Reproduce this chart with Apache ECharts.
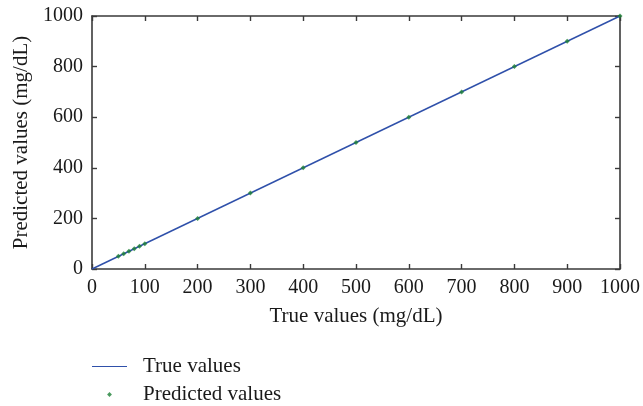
<!DOCTYPE html>
<html>
<head>
<meta charset="utf-8">
<script src="https://cdn.jsdelivr.net/npm/echarts@6/dist/echarts.min.js"></script>
<style>
  html, body { margin: 0; padding: 0; background: #fff; }
  #chart { width: 643px; height: 406px; }
</style>
</head>
<body>
<div id="chart"></div>
<script>
// Reference (identity) line endpoints, in mg/dL
const trueLineX = [0, 1000];
const trueLineY = [0, 1000];

// Predicted glucose values against true values, in mg/dL
const trueValues = [50, 60, 70, 80, 90, 100, 200, 300, 400, 500, 600, 700, 800, 900, 1000];
const predictedValues = [50, 60, 70, 80, 90, 100, 200, 300, 400, 500, 600, 700, 800, 900, 1000];

const FONT = '"Liberation Serif", "DejaVu Serif", serif';
const TEXT = '#1a1a1a';
const LINE_BLUE = '#2f50aa';
const POINT_GREEN = '#1b8034';

const chart = echarts.init(document.getElementById('chart'), null, { renderer: 'canvas' });

// Shared look for the four sides of the axis box
function boxAxis(extra) {
  return Object.assign({
    type: 'value',
    min: 0,
    max: 1000,
    axisLine: { show: true, onZero: false, lineStyle: { color: '#3a3a3a', width: 1.6 } },
    axisTick: { show: true, inside: true, length: 5, lineStyle: { color: '#3a3a3a', width: 1.4 } },
    splitLine: { show: false },
    axisLabel: { show: false }
  }, extra);
}

const tickLabel = (margin) => ({
  show: true,
  fontFamily: FONT,
  fontSize: 20,
  color: TEXT,
  margin: margin,
  formatter: (v) => String(v)
});

chart.setOption({
  animation: false,
  backgroundColor: '#fff',
  grid: { left: 92, right: 23, top: 16, bottom: 137, containLabel: false },
  xAxis: [
    boxAxis({
      position: 'bottom',
      interval: 100,
      name: 'True values (mg/dL)',
      nameLocation: 'middle',
      nameGap: 37,
      nameTextStyle: { fontFamily: FONT, fontSize: 21, color: TEXT },
      axisLabel: tickLabel(9)
    }),
    boxAxis({ position: 'top', interval: 100 })
  ],
  yAxis: [
    boxAxis({
      position: 'left',
      interval: 200,
      name: 'Predicted values (mg/dL)',
      nameLocation: 'middle',
      nameGap: 58,
      nameTextStyle: { fontFamily: FONT, fontSize: 21, color: TEXT },
      axisLabel: tickLabel(9)
    }),
    boxAxis({ position: 'right', interval: 200 })
  ],
  legend: {
    orient: 'vertical',
    left: 92,
    top: 356,
    padding: 0,
    itemGap: 7,
    itemWidth: 35,
    itemHeight: 14,
    textStyle: { fontFamily: FONT, fontSize: 21, color: TEXT, padding: [0, 0, 0, 11] },
    data: [
      {
        name: 'True values',
        icon: 'path://M0,6.4 L35,6.4 L35,7.6 L0,7.6 Z',
        itemStyle: { color: LINE_BLUE }
      },
      {
        name: 'Predicted values',
        icon: 'path://M0,0 M14,14 M4.6,7 L7,4.6 L9.4,7 L7,9.4 Z',
        itemStyle: { color: POINT_GREEN }
      }
    ]
  },
  series: [
    {
      name: 'True values',
      type: 'line',
      data: trueLineX.map((x, i) => [x, trueLineY[i]]),
      symbol: 'none',
      lineStyle: { color: LINE_BLUE, width: 1.4 },
      itemStyle: { color: LINE_BLUE },
      z: 2
    },
    {
      name: 'Predicted values',
      type: 'scatter',
      data: trueValues.map((x, i) => [x, predictedValues[i]]),
      symbol: 'diamond',
      symbolSize: 5,
      itemStyle: { color: POINT_GREEN },
      z: 3
    }
  ]
});
</script>
</body>
</html>
